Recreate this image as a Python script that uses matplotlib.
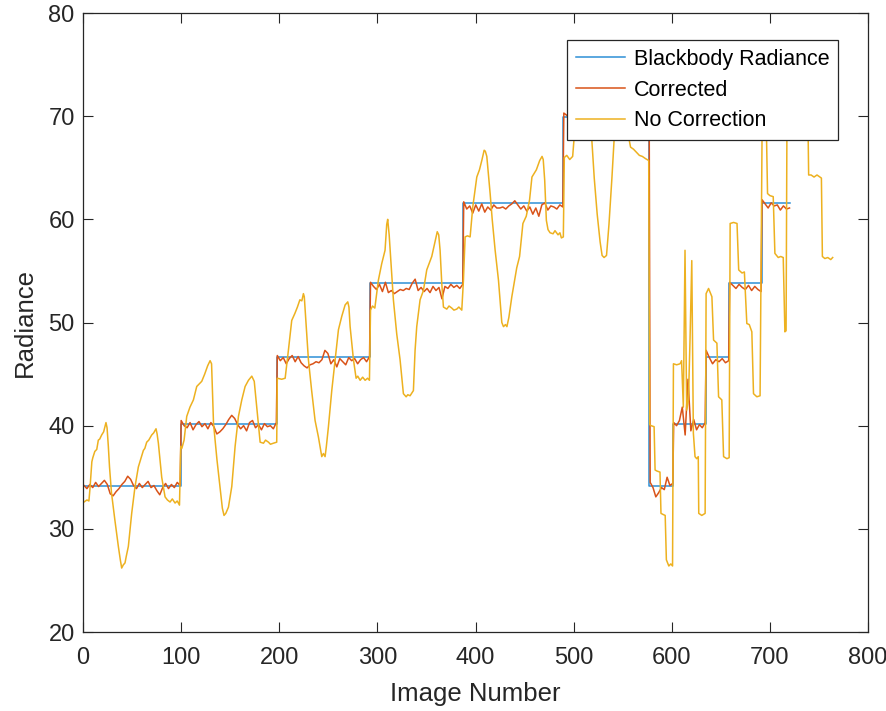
import numpy as np
import matplotlib.pyplot as plt

plt.rcParams['font.family'] = ['Liberation Sans', 'DejaVu Sans']

# blackbody reference levels, one per image block
bb_edges = [1, 99.5, 197.5, 292.5, 387.5, 489.5, 577, 601.5, 634.5, 658.5, 691.5, 720]
bb_levels = [34.2, 40.2, 46.7, 53.85, 61.6, 69.9, 34.2, 40.2, 46.7, 53.85, 61.6]

# corrected radiance, sampled per block
corr_blocks = [
    (1, 99, [34.2, 33.9, 34.3, 34.0, 34.5, 34.1, 34.4, 34.7, 34.3, 33.4, 33.2, 33.6, 33.9, 34.3, 34.6, 35.1, 34.8,
             34.2, 33.9, 34.4, 34.0, 34.3, 34.6, 34.0, 34.2, 33.7, 33.3, 34.0, 34.4, 33.9, 34.3, 34.0, 34.5, 34.2]),
    (100, 197, [40.5, 40.0, 39.8, 40.3, 39.6, 40.1, 40.4, 39.9, 40.2, 39.7, 40.3, 39.9, 39.2, 39.4, 39.7, 40.1, 40.6,
                41.0, 40.7, 40.1, 39.7, 40.0, 39.5, 40.3, 40.5, 39.8, 40.1, 39.6, 40.2, 39.9, 40.0, 39.7, 40.3]),
    (198, 292, [46.8, 46.3, 46.6, 46.0, 46.5, 46.8, 46.2, 46.7, 46.1, 45.8, 45.6, 45.9, 46.0, 46.2, 46.1, 46.4,
                47.3, 47.0, 46.0, 46.4, 45.7, 46.5, 46.2, 45.9, 46.6, 46.3, 46.5, 46.0, 46.4, 46.6, 46.2, 46.7]),
    (293, 387, [53.9, 53.5, 53.2, 53.7, 53.0, 53.9, 52.9, 53.1, 52.8, 53.0, 53.2, 53.1, 53.3, 53.2, 53.8, 54.2,
                53.1, 53.4, 53.0, 53.3, 52.9, 53.5, 53.1, 53.4, 52.3, 53.5, 53.3, 53.7, 53.4, 53.6, 53.3, 53.7]),
    (388, 489, [61.7, 61.0, 61.3, 60.6, 61.4, 60.8, 61.5, 60.7, 61.2, 60.9, 61.4, 61.1, 61.1, 61.2, 61.0, 61.3,
                61.5, 61.8, 61.4, 61.0, 61.3, 60.8, 61.2, 60.5, 61.1, 60.3, 61.4, 61.6, 60.9, 61.3, 61.2, 61.0,
                61.4, 61.2]),
    (490, 577, [70.3, 69.6, 69.9, 70.1, 69.7, 69.8, 70.0, 69.6, 69.9, 70.1]),
    (578, 601, [34.5, 34.0, 33.1, 33.5, 34.0, 33.8, 35.0, 34.2, 34.4]),
    (602, 634, [40.3, 40.0, 40.5, 41.8, 39.1, 44.5, 39.5, 40.6, 39.6, 40.1, 39.8, 40.3]),
    (635, 658, [47.3, 46.6, 46.0, 46.4, 46.2, 46.5, 46.1, 46.3]),
    (659, 691, [53.9, 53.6, 53.3, 53.7, 53.4, 53.2, 53.6, 53.1, 53.5, 53.2, 53.0]),
    (692, 720, [61.9, 61.5, 61.1, 61.6, 61.3, 61.4, 60.9, 61.3, 61.0, 61.1]),
]

# uncorrected radiance
raw_x = [1, 4, 6, 7, 9, 10, 12, 14, 15.6, 17, 19, 21, 23.4, 24.5, 25.8, 27, 29, 32.4, 36, 38, 39.4, 41, 42.8, 44,
         46.2, 49.6, 53, 56.4, 59, 61.5, 63, 64.9, 67, 70, 72, 74.4, 75.5, 76.8, 80.2, 83.6, 86, 88.7, 91, 93.8,
         96, 98.3, 99.6,
         100.7, 103, 105.7, 109, 112.5, 115.9, 118, 121, 124, 127, 129.5, 131, 133, 136.5, 139.9, 142, 143.7,
         145.5, 148.2, 151.6, 155, 158.4, 161.8, 165.2, 168.6, 172, 174.5, 177, 180.5, 183.9, 186, 189, 191, 194,
         197.4,
         198, 202.5, 206, 209.3, 212.7, 216, 218.5, 221, 223, 224.6, 225.5, 227.3, 229.7, 233, 236.5, 239.9,
         243.3, 245, 246.7, 248, 250.1, 253.5, 256.9, 260.3, 263.7, 267.1, 269.8, 271, 272.2, 275.6, 278.3, 280,
         282.4, 285, 287.5, 290, 291.9,
         293, 295, 297.4, 301, 304.4, 307.8, 309.5, 310.5, 312, 313, 316.3, 319.7, 323.1, 326.5, 329.3, 331,
         333.3, 336.7, 338.4, 340.1, 343.5, 346.9, 350.3, 355.4, 358, 361, 362.5, 363.9, 365.6, 367.3, 370.7, 373,
         375.8, 378, 380.9, 383, 386,
         387.7, 389.4, 391.8, 394.5, 397.2, 399, 401.3, 404, 406.4, 408.8, 410, 411.5, 414.9, 417, 420, 423.4,
         426.8, 428.5, 430.5, 432, 434, 437, 439.8, 442, 444.9, 448.3, 451.7, 455.1, 457.5, 460, 462, 465.4,
         467.8, 469, 470.5, 472.2, 473.9, 476, 479, 481, 484.1, 486, 487.5, 489.5,
         490.5, 493, 496, 499, 501, 503, 508, 513, 516, 518, 521, 524, 527, 529, 531, 533.5, 536, 539, 542, 544,
         549, 554, 556, 558, 561, 564, 567, 570, 573, 576.5,
         577.5, 579, 582, 583, 585, 588, 589, 591, 593.3, 594.5, 597, 599, 600.8,
         601.7, 605, 608.5, 610, 611.8, 613.5, 615.2, 617, 618.6, 620.4, 622, 623.7, 625.4, 627, 627.5, 630.6, 634,
         635, 637.5, 640.9, 642.6, 646, 647.7, 651, 652.8, 656.2, 658.5,
         659.5, 663, 666.5, 668.2, 671.6, 674, 676.5, 679, 681.6, 683.3, 686.7, 690,
         692, 694, 696.6, 697.6, 700, 703.4, 705.1, 708.5, 711, 713.6, 715.3, 716.5, 717.5, 727, 738, 739, 739.5,
         742, 745, 748, 751, 752.5, 753.5, 756, 759, 762, 764]
raw_y = [32.6, 32.8, 32.7, 33.8, 36.5, 36.9, 37.5, 37.7, 38.6, 38.7, 39.1, 39.4, 40.3, 39.8, 38.0, 36.0, 33.5,
         30.9, 28.3, 27.0, 26.2, 26.5, 26.7, 27.3, 28.3, 31.5, 34.1, 36.0, 36.8, 37.6, 37.8, 38.4, 38.6, 39.1,
         39.3, 39.7, 39.2, 38.3, 35.0, 33.1, 32.8, 32.6, 32.9, 32.5, 32.7, 32.3, 38.0,
         37.8, 38.6, 40.9, 41.8, 42.5, 43.8, 44.0, 44.3, 45.0, 45.8, 46.3, 46.0, 40.2, 36.7, 33.8, 32.0, 31.3,
         31.5, 32.1, 34.1, 38.0, 40.9, 42.5, 43.8, 44.4, 44.8, 44.3, 41.8, 38.4, 38.3, 38.6, 38.4, 38.2, 38.3,
         38.4,
         44.6, 44.5, 44.6, 47.3, 50.2, 50.9, 51.5, 52.2, 52.1, 52.8, 52.5, 49.9, 46.4, 43.4, 40.5, 38.9, 37.0,
         37.3, 37.0, 38.0, 39.9, 43.4, 46.4, 49.3, 50.6, 51.7, 52.0, 51.5, 49.6, 46.4, 44.6, 44.8, 44.4, 44.7,
         44.4, 44.6, 44.4,
         51.2, 51.6, 51.4, 54.1, 55.7, 57.0, 59.5, 60.0, 58.5, 57.0, 52.2, 48.9, 46.4, 43.1, 42.8, 43.0, 42.9,
         43.4, 47.3, 49.6, 52.2, 53.1, 55.1, 56.4, 57.5, 58.8, 58.5, 57.0, 53.8, 51.5, 51.3, 51.6, 51.4, 51.2,
         51.3, 51.5, 51.2,
         54.1, 58.3, 58.4, 58.3, 61.2, 62.5, 64.1, 64.8, 65.7, 66.7, 66.6, 66.1, 62.5, 60.0, 57.0, 54.1, 50.0,
         49.6, 49.8, 49.6, 50.5, 52.5, 54.1, 55.3, 56.4, 59.6, 60.3, 61.9, 64.1, 64.5, 64.8, 65.7, 66.1, 65.8,
         63.8, 59.9, 59.0, 58.7, 58.6, 58.9, 58.5, 58.7, 58.2, 58.3,
         66.0, 66.2, 65.8, 66.1, 68.5, 71.5, 73.5, 73.0, 71.5, 68.5, 64.0, 60.5, 57.8, 56.5, 56.3, 56.5, 59.5,
         64.0, 69.0, 72.0, 73.0, 72.0, 68.0, 67.0, 66.8, 66.5, 66.2, 66.1, 65.9, 65.7,
         40.1, 40.0, 39.9, 35.7, 35.6, 35.5, 31.5, 31.4, 31.3, 27.0, 26.4, 26.6, 26.4,
         46.0, 45.9, 46.0, 46.3, 41.8, 57.0, 41.5, 42.5, 48.3, 56.0, 39.3, 37.0, 36.8, 37.0, 31.5, 31.3, 31.5,
         52.8, 53.3, 52.5, 48.3, 48.0, 42.8, 42.5, 37.0, 36.8, 36.9,
         59.6, 59.7, 59.6, 55.1, 54.8, 54.9, 49.9, 49.8, 49.1, 43.1, 42.8, 42.9,
         68.0, 67.9, 67.8, 62.5, 62.3, 62.2, 56.7, 56.3, 56.4, 56.3, 49.1, 49.2, 72.0, 73.0, 72.0, 68.0, 64.3,
         64.3, 64.1, 64.3, 64.1, 64.0, 56.4, 56.2, 56.3, 56.1, 56.3]

BLUE = '#2e8fd6'
RED = '#D95319'
YELLOW = '#EDB120'
AX_COLOR = '#262626'

corr_x = np.concatenate([np.linspace(a, b, len(v)) for a, b, v in corr_blocks])
corr_y = np.concatenate([v for _, _, v in corr_blocks])
bb_x = np.array(bb_edges)
bb_y = np.array(bb_levels + [bb_levels[-1]])

fig = plt.figure(figsize=(8.86, 7.11), dpi=100)
ax = fig.add_axes([0.0937, 0.1111, 0.886, 0.8706])

ax.plot(bb_x, bb_y, drawstyle='steps-post', color=BLUE, lw=1.1, label='Blackbody Radiance')
ax.plot(corr_x, corr_y, color=RED, lw=1.1, label='Corrected')
ax.plot(raw_x, raw_y, color=YELLOW, lw=1.1, label='No Correction')

ax.set_xlim(0, 800)
ax.set_ylim(20, 80)
ax.set_xticks(np.arange(0, 801, 100))
ax.set_yticks(np.arange(20, 81, 10))
ax.tick_params(direction='in', length=7, width=0.8, top=True, right=True,
               labelsize=17, colors=AX_COLOR)
ax.tick_params(axis='x', pad=11)
ax.tick_params(axis='y', pad=6)
for s in ax.spines.values():
    s.set_color(AX_COLOR)
    s.set_linewidth(0.9)

ax.set_xlabel('Image Number', fontsize=18.5, color=AX_COLOR, labelpad=9)
ax.set_ylabel('Radiance', fontsize=18.5, color=AX_COLOR, labelpad=8)

leg = ax.legend(loc='upper right', bbox_to_anchor=(0.962, 0.956), fontsize=15.5, frameon=True,
                fancybox=False, borderaxespad=0, handlelength=2.3, handletextpad=0.4,
                labelspacing=0.45, borderpad=0.4)
leg.get_frame().set_edgecolor(AX_COLOR)
leg.get_frame().set_linewidth(0.9)
leg.get_frame().set_alpha(1)
leg.set_zorder(5)

fig.savefig('out.png', dpi=100)
